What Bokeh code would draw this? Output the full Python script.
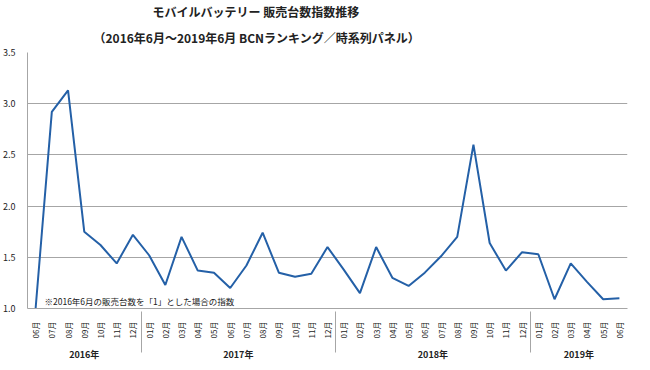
from bokeh.plotting import figure
from bokeh.models import FactorRange, Range1d, Label, Title, ColumnDataSource, FixedTicker, PrintfTickFormatter
from bokeh.embed import file_html
from bokeh.resources import INLINE
import math

years = ["2016年"] * 7 + ["2017年"] * 12 + ["2018年"] * 12 + ["2019年"] * 6
months = ["06月", "07月", "08月", "09月", "10月", "11月", "12月"] + \
         ["01月", "02月", "03月", "04月", "05月", "06月", "07月", "08月", "09月", "10月", "11月", "12月"] + \
         ["01月", "02月", "03月", "04月", "05月", "06月", "07月", "08月", "09月", "10月", "11月", "12月"] + \
         ["01月", "02月", "03月", "04月", "05月", "06月"]
values = [1.00, 2.92, 3.13, 1.75, 1.62, 1.44, 1.72,
          1.52, 1.23, 1.70, 1.37, 1.35, 1.20, 1.42, 1.74, 1.35, 1.31, 1.34, 1.60,
          1.38, 1.15, 1.60, 1.30, 1.22, 1.35, 1.51, 1.70, 2.60, 1.64, 1.37, 1.55,
          1.53, 1.09, 1.44, 1.26, 1.09, 1.10]
y_ticks = [1.0, 1.5, 2.0, 2.5, 3.0, 3.5]

title1 = "モバイルバッテリー 販売台数指数推移"
title2 = "（2016年6月～2019年6月  BCNランキング／時系列パネル）"
note = "※2016年6月の販売台数を「1」とした場合の指数"

FONT = "Noto Sans CJK JP"
TXT = "#222222"
GRID = "#a6a6a6"

factors = list(zip(years, months))
src = ColumnDataSource(data=dict(x=factors, y=values))

p = figure(frame_width=600, frame_height=256, output_backend="svg", toolbar_location=None,
           x_range=FactorRange(*factors, factor_padding=0, group_padding=0, range_padding=0),
           y_range=Range1d(1.0, 3.5),
           min_border_left=24, min_border_right=12, min_border_top=52, min_border_bottom=46)
p.title = None
p.outline_line_color = None
p.background_fill_color = "white"
p.border_fill_color = "white"

p.line("x", "y", source=src, line_color="#2460a7", line_width=2)

# titles: the one added first sits closest to the plot
p.add_layout(Title(text=title2, align="left", offset=66, text_font=FONT, text_font_size="12px",
                   text_font_style="bold", text_color=TXT, standoff=14), "above")
p.add_layout(Title(text=title1, align="left", offset=125, text_font=FONT, text_font_size="12px",
                   text_font_style="bold", text_color=TXT, standoff=0), "above")

p.add_layout(Label(x=17, y=8, x_units="screen", y_units="screen", text=note,
                   text_font=FONT, text_font_size="8.5px", text_baseline="middle",
                   text_color=TXT))

# grid
p.xgrid.grid_line_color = None
p.ygrid.grid_line_color = GRID
p.ygrid.grid_line_width = 1

# y axis
p.yaxis.ticker = FixedTicker(ticks=y_ticks)
p.yaxis.formatter = PrintfTickFormatter(format="%.1f")
p.yaxis.major_tick_line_color = None
p.yaxis.minor_tick_line_color = None
p.yaxis.axis_line_color = GRID
p.yaxis.major_label_text_font = FONT
p.yaxis.major_label_text_font_size = "9px"
p.yaxis.major_label_text_color = TXT
p.yaxis.major_label_standoff = 6

# x axis
xa = p.xaxis[0]
xa.axis_line_color = GRID
xa.major_tick_line_color = None
xa.minor_tick_line_color = None
xa.major_label_orientation = math.pi / 2
xa.major_label_text_font = FONT
xa.major_label_text_font_size = "8px"
xa.major_label_text_color = TXT
xa.major_label_standoff = 7
xa.group_text_font = FONT
xa.group_text_font_size = "9px"
xa.group_text_color = TXT
xa.group_label_orientation = "horizontal"
xa.separator_line_color = GRID
xa.separator_line_width = 1

open("out.html", "w").write(file_html(p, INLINE))
